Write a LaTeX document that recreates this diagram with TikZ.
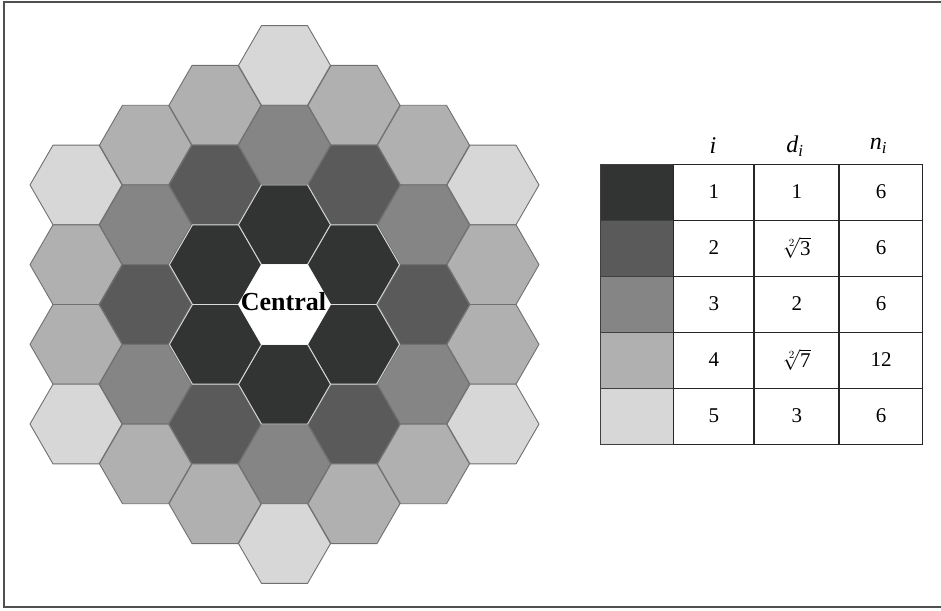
\documentclass[tikz,border=0pt]{standalone}
\usepackage{fontspec}
\setmainfont{Liberation Serif}
\usetikzlibrary{positioning}
\definecolor{hexd0}{RGB}{255,255,255}
\definecolor{hexd1}{RGB}{50,52,51}
\definecolor{hexd3}{RGB}{90,90,90}
\definecolor{hexd4}{RGB}{133,133,133}
\definecolor{hexd7}{RGB}{175,176,175}
\definecolor{hexd9}{RGB}{215,215,215}
\definecolor{hexedge}{RGB}{112,112,112}
\definecolor{framegray}{RGB}{80,80,80}

\begin{document}
\begin{tikzpicture}[
  x=1pt, y=-1pt,
  every node/.style={font=\fontsize{21}{24}\selectfont},
  hexcell/.style={draw=hexedge,line width=0.9pt,line join=round},
  swatch/.style={draw=black!75,line width=0.9pt,minimum width=73pt,minimum height=56pt,inner sep=0pt},
  valcell/.style={draw=black!85,line width=0.9pt,minimum height=56pt,inner sep=0pt},
  headlbl/.style={font=\fontsize{24}{26}\selectfont\itshape},
]
  \useasboundingbox (0,0) rectangle (941,610);
  \draw[framegray,line width=2pt] (945,2) -- (4,2) -- (4,607) -- (945,607);

  % hexagonal field, shaded by distance class (q,r axial)
  \foreach \q in {-3,...,3}{
    \foreach \r in {-3,...,3}{
      \pgfmathtruncatemacro\s{-\q-\r}
      \pgfmathtruncatemacro\dsq{\q*\q+\q*\r+\r*\r}
      \ifnum\s<-3 \else \ifnum\s>3 \else
        \draw[hexcell,fill=hexd\dsq,shift={(284.5+69.5*\q,304.5+79.7*\r+39.85*\q)}]
          (0:46) -- (60:46) -- (120:46) -- (180:46) -- (240:46) -- (300:46) -- cycle;
      \fi\fi
    }
  }

  % first ring, white edges
  \foreach \a in {30,90,...,330}
    \draw[fill=hexd1,draw=white!85!black,line width=0.9pt,line join=round,
          shift={(284.5,304.5)},shift={(\a:79.7)}]
      (0:46) -- (60:46) -- (120:46) -- (180:46) -- (240:46) -- (300:46) -- cycle;
  \draw[fill=white,draw=white,shift={(284.5,304.5)}]
    (0:46) -- (60:46) -- (120:46) -- (180:46) -- (240:46) -- (300:46) -- cycle;
  \node[font=\fontsize{26}{28}\selectfont\bfseries] (central) at (283.5,302) {Central};

  % legend table
  \node[headlbl] (hi) at (713,146) {i};
  \node[headlbl] (hd) at (795,146) {d\textsubscript{i}};
  \node[headlbl] (hn) at (878.5,146) {n\textsubscript{i}};

  \foreach \k/\c/\dv/\nv in {1/hexd1/1/6, 2/hexd3/{$\sqrt[2]{\mbox{3}}$}/6,
                            3/hexd4/2/6, 4/hexd7/{$\sqrt[2]{\mbox{7}}$}/12, 5/hexd9/3/6}{
    \node[swatch,fill=\c] (sw\k) at (636.5,136+56*\k) {};
    \node[valcell,minimum width=80pt,right=0pt of sw\k] (ci\k) {\k};
    \node[valcell,minimum width=84pt,right=0pt of ci\k] (cd\k) {\dv};
    \node[valcell,minimum width=83pt,right=0pt of cd\k] (cn\k) {\nv};
  }
\end{tikzpicture}
\end{document}
